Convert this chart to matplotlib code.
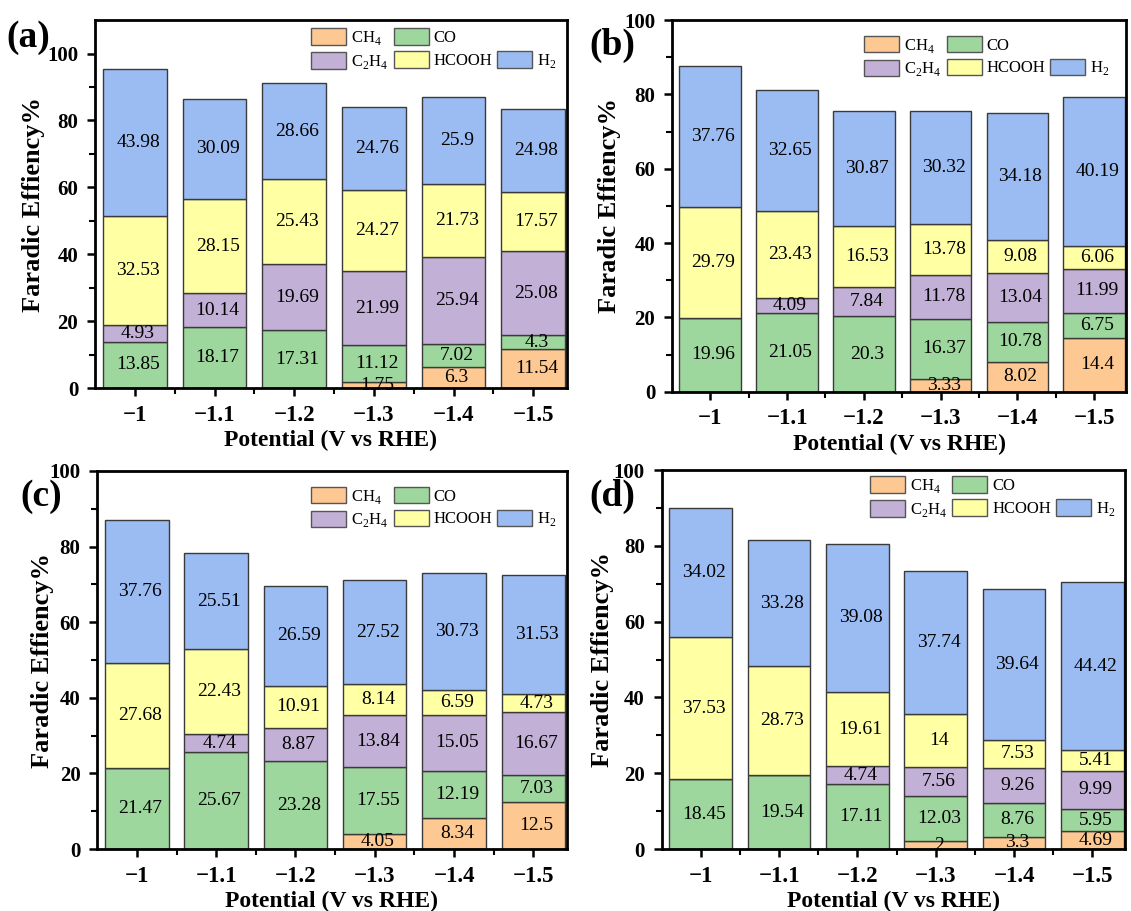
import numpy as np
import matplotlib
matplotlib.use('Agg')
import matplotlib.pyplot as plt
from matplotlib.patches import Patch

plt.rcParams['font.family'] = ['Liberation Serif', 'DejaVu Serif']
plt.rcParams['mathtext.fontset'] = 'custom'
plt.rcParams['mathtext.rm'] = 'Liberation Serif'

potentials = ['\u22121', '\u22121.1', '\u22121.2', '\u22121.3', '\u22121.4', '\u22121.5']
products = ['CH$_4$', 'CO', 'C$_2$H$_4$', 'HCOOH', 'H$_2$']
colors = ['#FDC892', '#9DD79D', '#C2B0D6', '#FFFFA3', '#9BBCF2']

# (a)
ch4_a = [0, 0, 0, 1.75, 6.3, 11.54]
co_a = [13.85, 18.17, 17.31, 11.12, 7.02, 4.3]
c2h4_a = [4.93, 10.14, 19.69, 21.99, 25.94, 25.08]
hcooh_a = [32.53, 28.15, 25.43, 24.27, 21.73, 17.57]
h2_a = [43.98, 30.09, 28.66, 24.76, 25.9, 24.98]
# (b)
ch4_b = [0, 0, 0, 3.33, 8.02, 14.4]
co_b = [19.96, 21.05, 20.3, 16.37, 10.78, 6.75]
c2h4_b = [0, 4.09, 7.84, 11.78, 13.04, 11.99]
hcooh_b = [29.79, 23.43, 16.53, 13.78, 9.08, 6.06]
h2_b = [37.76, 32.65, 30.87, 30.32, 34.18, 40.19]
# (c)
ch4_c = [0, 0, 0, 4.05, 8.34, 12.5]
co_c = [21.47, 25.67, 23.28, 17.55, 12.19, 7.03]
c2h4_c = [0, 4.74, 8.87, 13.84, 15.05, 16.67]
hcooh_c = [27.68, 22.43, 10.91, 8.14, 6.59, 4.73]
h2_c = [37.76, 25.51, 26.59, 27.52, 30.73, 31.53]
# (d)
ch4_d = [0, 0, 0, 2, 3.3, 4.69]
co_d = [18.45, 19.54, 17.11, 12.03, 8.76, 5.95]
c2h4_d = [0, 0, 4.74, 7.56, 9.26, 9.99]
hcooh_d = [37.53, 28.73, 19.61, 14, 7.53, 5.41]
h2_d = [34.02, 33.28, 39.08, 37.74, 39.64, 44.42]

fig = plt.figure(figsize=(11.31, 9.11), dpi=100)

# name, series, axes rect, ymax, panel label pos, ylabel x, legend anchor
panels = [
    ('(a)', [ch4_a, co_a, c2h4_a, hcooh_a, h2_a], [0.084, 0.574, 0.417, 0.404], 110,
     (0.006, 0.948), 0.040, (1.0, 1.005)),
    ('(b)', [ch4_b, co_b, c2h4_b, hcooh_b, h2_b], [0.594, 0.570, 0.402, 0.408], 100,
     (0.521, 0.940), 0.549, (0.985, 0.985)),
    ('(c)', [ch4_c, co_c, c2h4_c, hcooh_c, h2_c], [0.086, 0.068, 0.415, 0.415], 100,
     (0.018, 0.445), 0.048, (1.0, 0.985)),
    ('(d)', [ch4_d, co_d, c2h4_d, hcooh_d, h2_d], [0.585, 0.068, 0.410, 0.416], 100,
     (0.521, 0.445), 0.543, (1.0, 1.01)),
]

x = np.arange(len(potentials))

for name, series, rect, ymax, lpos, ylx, lanchor in panels:
    ax = fig.add_axes(rect)
    bottom = np.zeros(len(x))
    for vals, col in zip(series, colors):
        vals = np.array(vals, dtype=float)
        ax.bar(x, vals, 0.8, bottom=bottom, color=col, edgecolor='#3a3a3a', linewidth=1.0)
        for xi, b, v in zip(x, bottom, vals):
            if v > 0:
                ax.text(xi + 0.04, b + v / 2, '%g' % v, ha='center', va='center', fontsize=14)
        bottom += vals

    ax.set_xlim(-0.5, 5.42)
    ax.set_ylim(0, ymax)
    ax.set_xticks(x)
    ax.set_xticklabels(potentials)
    ax.set_xticks(x[:-1] + 0.5, minor=True)
    ax.set_yticks([0, 20, 40, 60, 80, 100])
    ax.set_yticks([10, 30, 50, 70, 90], minor=True)
    for lab in ax.get_xticklabels():
        lab.set_fontweight('bold')
        lab.set_fontsize(16.5)
    for lab in ax.get_yticklabels():
        lab.set_fontweight('bold')
        lab.set_fontsize(15)
    ax.tick_params(axis='both', which='major', direction='out', length=6, width=1.8, pad=6)
    ax.tick_params(axis='both', which='minor', direction='out', length=4, width=1.5)
    for sp in ax.spines.values():
        sp.set_linewidth(2)

    ax.set_xlabel('Potential (V vs RHE)', fontsize=17, fontweight='bold', labelpad=3)
    ax.set_ylabel('Faradic Effiency%', fontsize=19, fontweight='bold')
    ax.yaxis.set_label_coords(ylx, rect[1] + rect[3] / 2, transform=fig.transFigure)

    fig.text(lpos[0], lpos[1], name, fontsize=27, fontweight='bold')

    handles = [Patch(facecolor=c, edgecolor='#555555', linewidth=1.0) for c in colors]
    blank = Patch(facecolor='none', edgecolor='none')
    order = [handles[0], handles[2], handles[1], handles[3], blank, handles[4]]
    labels = [products[0], products[2], products[1], products[3], '', products[4]]
    ax.legend(order, labels, ncol=3, loc='upper right', bbox_to_anchor=lanchor,
              frameon=False, fontsize=12, handlelength=2.1, handleheight=1.15,
              columnspacing=0.3, handletextpad=0.3, labelspacing=0.3,
              borderaxespad=0.2)

fig.savefig('out.png', dpi=100)
